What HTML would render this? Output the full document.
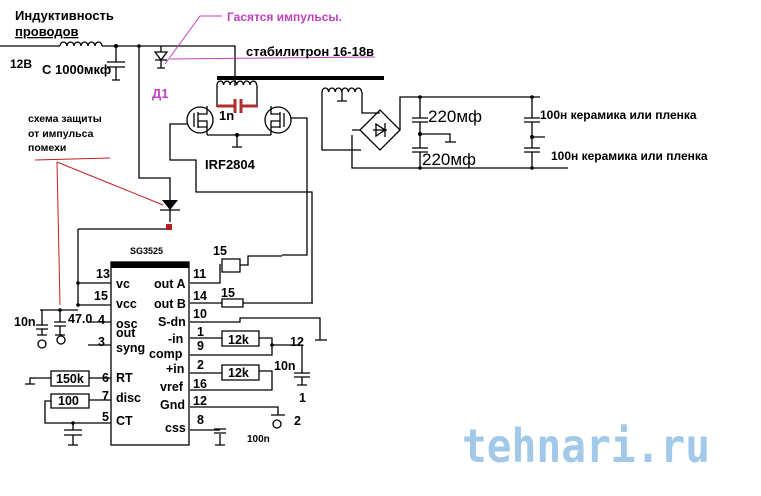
<!DOCTYPE html>
<html><head><meta charset="utf-8"><style>
html,body{margin:0;padding:0;background:#fff}
svg{display:block}
text{font-family:"Liberation Sans","DejaVu Sans",sans-serif;font-weight:bold;fill:#000}
</style></head><body>
<svg width="761" height="496" viewBox="0 0 761 496" xmlns="http://www.w3.org/2000/svg">
<rect width="761" height="496" fill="#fff"/>
<g stroke="#000" stroke-width="1.3" fill="none">
<path d="M0 46H60"/>
<path d="M60 46a3.5 4 0 0 1 7 0a3.5 4 0 0 1 7 0a3.5 4 0 0 1 7 0a3.5 4 0 0 1 7 0a3.5 4 0 0 1 7 0a3.5 4 0 0 1 7 0"/>
<path d="M102 46H235V86"/>
<path d="M116 46V62M107 62H125M107 67H125M116 67V80M112 80H120"/>
<path d="M139 46V178H170V200"/>
<path d="M161 46V52M155 52H167L161 60ZM155 60H167M161 60V68M157 68H165"/>
<path d="M217 85a3.3 4 0 0 1 6.6 0a3.3 4 0 0 1 6.6 0a3.3 4 0 0 1 6.6 0a3.3 4 0 0 1 6.6 0a3.3 4 0 0 1 6.6 0a3.3 4 0 0 1 6.6 0"/>
<path d="M217 85V107M257 85V107"/>
<circle cx="200" cy="120" r="13"/>
<circle cx="278" cy="120" r="13"/>
<path d="M194 113V127M198 112V128M198 114H207V106M198 121H207V135M198 127H207"/>
<path d="M284 113V127M280 112V128M280 114H271V106M280 121H271V135M280 127H271"/>
<path d="M207 135H271M237 135V147M232 147H242"/>
<path d="M187 124H170V160H196V192H312V303"/>
<path d="M291 118H307V255H282"/>
<path d="M322 92a3.3 4 0 0 1 6.6 0a3.3 4 0 0 1 6.6 0a3.3 4 0 0 1 6.6 0a3.3 4 0 0 1 6.6 0a3.3 4 0 0 1 6.6 0a3.3 4 0 0 1 6.6 0"/>
<path d="M342 92V101M337 101H347"/>
<path d="M322 92V150H361M362 92V113H380"/>
<path d="M380 110L400 130L380 150L360 130Z"/>
<path d="M373 130H387M385 123V137M376 124L385 130L376 136Z"/>
<path d="M400 130V97H540M352 135V168H568M360 130H352"/>
<path d="M420 97V118M412 118H428M412 122H428M420 122V148M412 148H428M412 152H428M420 152V168M420 134H450V142M445 142H456"/>
<path d="M532 97V118M524 118H540M524 122H540M532 122V148M524 148H540M524 152H540M532 152V168M532 137H545"/>
<rect x="111" y="262" width="78" height="183"/>
<path d="M78 229H170M78 229V305M78 283H111M78 305H111M40 310H78M42 310V325M60 310V322"/>
<path d="M36 325H48M36 329H48M42 329V335M37 335H47M54 322H66M54 326H66M60 326V335M55 335H65"/>
<circle cx="42" cy="344" r="4"/><circle cx="61" cy="340" r="4"/>
<path d="M88 322H111M88 345H111"/>
<path d="M89 378H111M51 371H89V386H51ZM51 378H30V384M25 384H35"/>
<path d="M89 400H111M51 394H89V408H51ZM51 401H45V423H111M73 423V430M64 430H82M64 435H82M73 435V445M68 445H78"/>
<path d="M190 283H220V264M222 259H240V272H222ZM240 265H248V256H282"/>
<path d="M190 303H222M222 299H243V307H222ZM243 303H313"/>
<path d="M190 322H240V318H320V340M315 340H327"/>
<path d="M190 338H222M222 331H259V346H222ZM259 338H272V355H190M272 345H302V373M294 373H310M294 377H310M302 377V385M297 385H307"/>
<path d="M190 373H222M222 365H259V380H222ZM259 371H272V390H190"/>
<path d="M190 407H278V415M271 415H285"/>
<circle cx="277" cy="424" r="4"/>
<path d="M190 430H220M214 429H226M220 434V445M215 445H225M214 433H226"/>
</g>
<g fill="#000">
<circle cx="116" cy="46" r="2"/><circle cx="139" cy="46" r="1.8"/><circle cx="237" cy="135" r="2"/>
<circle cx="78" cy="283" r="1.8"/><circle cx="78" cy="305" r="1.8"/><circle cx="60" cy="310" r="1.8"/>
<circle cx="73" cy="423" r="1.8"/><circle cx="272" cy="345" r="1.8"/><circle cx="420" cy="97" r="1.8"/>
<circle cx="420" cy="168" r="1.8"/><circle cx="420" cy="134" r="2"/><circle cx="532" cy="97" r="1.8"/>
<circle cx="532" cy="168" r="1.8"/><circle cx="532" cy="137" r="2"/>
<path d="M162 200H178L170 210Z"/>
</g>
<path d="M160 210H180M170 210V222" stroke="#000" stroke-width="1.3"/>
<rect x="166" y="224" width="6" height="6" fill="#b02020"/>
<rect x="111" y="262" width="78" height="6" fill="#000"/>
<path d="M217 78H384" stroke="#000" stroke-width="4"/>
<g stroke="#b03030" stroke-width="3" fill="none">
<path d="M217 106H234M242 106H258M235 99V113M241 99V113"/>
</g>
<g stroke="#c040c0" stroke-width="1" fill="none">
<path d="M222 16H200L165 64M170 59L375 57"/>
</g>
<g stroke="#c02020" stroke-width="1" fill="none">
<path d="M35 160L110 158M57 162L163 205M57 162L60 305"/>
</g>
<text x="15" y="20" font-size="13">Индуктивность</text>
<text x="15" y="36" font-size="13" text-decoration="underline">проводов</text>
<text x="10" y="68" font-size="12">12В</text>
<text x="42" y="74" font-size="13">C 1000мкф</text>
<text x="227" y="21" font-size="12" style="fill:#c040c0">Гасятся импульсы.</text>
<text x="246" y="56" font-size="13">стабилитрон 16-18в</text>
<text x="152" y="98" font-size="13" style="fill:#c040c0">Д1</text>
<text x="28" y="122" font-size="10.5">схема защиты</text>
<text x="28" y="137" font-size="10.5">от импульса</text>
<text x="28" y="151" font-size="10.5">помехи</text>
<text x="219" y="120" font-size="13">1n</text>
<text x="205" y="169" font-size="13">IRF2804</text>
<text x="428" y="122" font-size="17" style="font-weight:normal">220мф</text>
<text x="422" y="165" font-size="17" style="font-weight:normal">220мф</text>
<text x="540" y="119" font-size="12">100н керамика или  пленка</text>
<text x="551" y="160" font-size="12">100н керамика или  пленка</text>
<text x="130" y="254" font-size="9">SG3525</text>
<g font-size="12.5">
<text x="116" y="288">vc</text><text x="116" y="308">vcc</text><text x="116" y="328">osc</text>
<text x="116" y="337">out</text><text x="116" y="352">syng</text><text x="116" y="382">RT</text>
<text x="116" y="402">disc</text><text x="116" y="425">CT</text>
<text x="154" y="288">out A</text><text x="154" y="308">out B</text><text x="158" y="326">S-dn</text>
<text x="168" y="343">-in</text><text x="149" y="358">comp</text><text x="166" y="373">+in</text>
<text x="160" y="391">vref</text><text x="160" y="409">Gnd</text><text x="165" y="432">css</text>
<text x="96" y="278">13</text><text x="94" y="300">15</text><text x="98" y="324">4</text>
<text x="98" y="346">3</text><text x="102" y="382">6</text><text x="102" y="400">7</text><text x="102" y="421">5</text>
<text x="193" y="278">11</text><text x="193" y="300">14</text><text x="193" y="318">10</text>
<text x="197" y="336">1</text><text x="197" y="350">9</text><text x="197" y="369">2</text>
<text x="193" y="388">16</text><text x="193" y="405">12</text><text x="197" y="424">8</text>
<text x="213" y="255">15</text><text x="221" y="297">15</text>
<text x="228" y="344">12k</text><text x="228" y="377">12k</text>
<text x="56" y="383">150k</text><text x="58" y="405">100</text>
<text x="290" y="346">12</text><text x="274" y="370">10n</text><text x="299" y="402">1</text><text x="294" y="425">2</text>
<text x="14" y="326">10n</text><text x="68" y="323">47.0</text>
</g>
<text x="247" y="442" font-size="10">100n</text>
<text x="462" y="462" font-size="46" textLength="248" lengthAdjust="spacingAndGlyphs" style="fill:#a3c9ea;font-weight:bold;font-family:'DejaVu Sans Mono','Liberation Mono',monospace">tehnari.ru</text>
</svg>
</body></html>
